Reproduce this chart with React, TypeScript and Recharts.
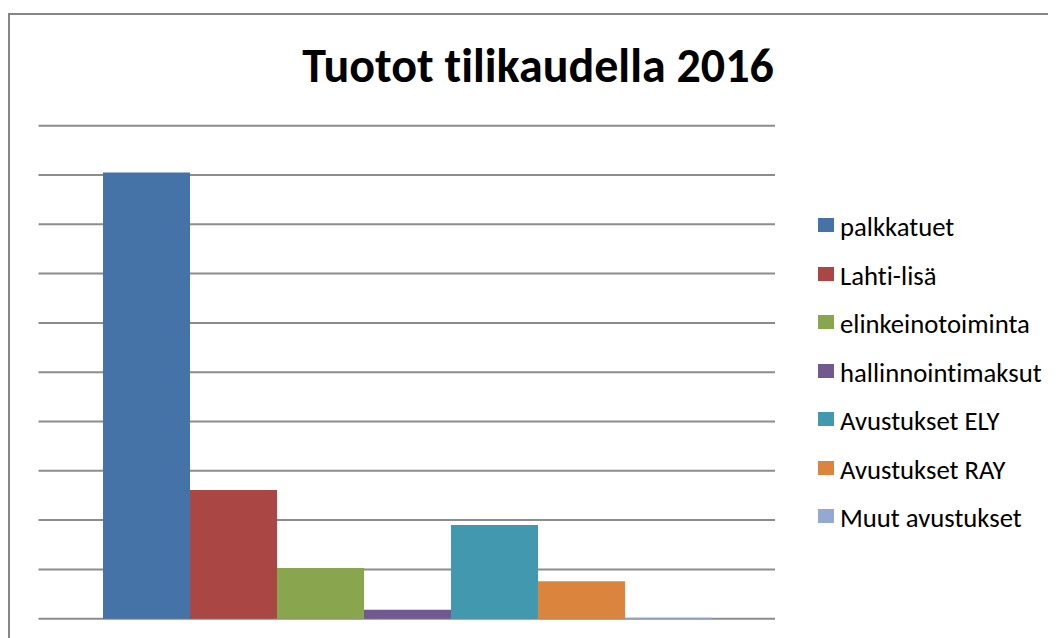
import { BarChart, Bar, XAxis, YAxis, CartesianGrid } from 'recharts'

const title = 'Tuotot tilikaudella 2016'
const category = ['2016']
const seriesNames = [
  'palkkatuet',
  'Lahti-lisä',
  'elinkeinotoiminta',
  'hallinnointimaksut',
  'Avustukset ELY',
  'Avustukset RAY',
  'Muut avustukset',
]
const seriesValues = [9.05, 2.61, 1.03, 0.18, 1.9, 0.76, 0.02]
const seriesColors = ['#4572A7', '#AA4643', '#89A54E', '#71588F', '#4198AF', '#DB843D', '#93A9CF']
const yTicks = [0, 1, 2, 3, 4, 5, 6, 7, 8, 9, 10]

const keys = seriesNames.map((_, i) => `s${i}`)
const data = category.map((c) => {
  const row: Record<string, string | number> = { name: c }
  keys.forEach((k, i) => (row[k] = seriesValues[i]))
  return row
})

const font = 'Calibri, Carlito, "Open Sans", "Noto Sans", sans-serif'

export default function App() {
  return (
    <div
      style={{
        position: 'relative',
        marginTop: 5,
        width: 1048,
        height: 625,
        borderTop: '2px solid #868686',
        borderLeft: '2px solid #868686',
        fontFamily: font,
        fontVariantLigatures: 'none',
        background: '#fff',
      }}
    >
      <div
        style={{
          position: 'absolute',
          left: 0,
          top: 23,
          width: 1056,
          textAlign: 'center',
          fontSize: 48,
          fontWeight: 700,
          color: '#000',
          lineHeight: '56px',
        }}
      >
        {title}
      </div>

      <BarChart
        width={1046}
        height={623}
        data={data}
        margin={{ top: 110.7, right: 281, bottom: 19.3, left: 28.5 }}
        barCategoryGap="8.76%"
        barGap={0}
      >
        <CartesianGrid vertical={false} stroke="#8c8c8c" strokeWidth={2} />
        <XAxis dataKey="name" hide />
        <YAxis hide domain={[0, 10]} ticks={yTicks} />
        {keys.map((k, i) => (
          <Bar key={k} dataKey={k} name={seriesNames[i]} fill={seriesColors[i]} isAnimationActive={false} />
        ))}
      </BarChart>

      <div style={{ position: 'absolute', left: 808, top: 188 }}>
        {seriesNames.map((n, i) => (
          <div key={n} style={{ display: 'flex', alignItems: 'center', height: 48.5 }}>
            <span style={{ width: 16, height: 14, background: seriesColors[i], marginRight: 6, marginTop: -4 }} />
            <span style={{ fontSize: 26.7, color: '#000', lineHeight: '30px', whiteSpace: 'nowrap' }}>{n}</span>
          </div>
        ))}
      </div>
    </div>
  )
}
